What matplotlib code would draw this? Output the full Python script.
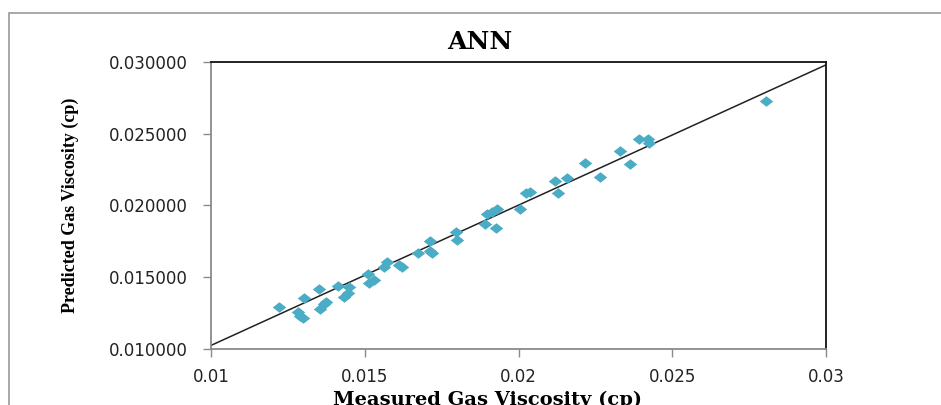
import matplotlib.pyplot as plt
from matplotlib.patches import Rectangle

# measured vs predicted gas viscosity (cp)
measured = [0.01220, 0.01283, 0.01289, 0.01299, 0.01302, 0.01351, 0.01353, 0.01367,
            0.01373, 0.01412, 0.01431, 0.01445, 0.01449, 0.01509, 0.01513, 0.01529,
            0.01562, 0.01572, 0.01611, 0.01620, 0.01673, 0.01712, 0.01712, 0.01718,
            0.01796, 0.01800, 0.01890, 0.01898, 0.01913, 0.01929, 0.01927, 0.02005,
            0.02026, 0.02036, 0.02118, 0.02130, 0.02157, 0.02216, 0.02264, 0.02329,
            0.02362, 0.02391, 0.02420, 0.02424, 0.02805]
predicted = [0.01293, 0.01258, 0.01228, 0.01216, 0.01356, 0.01421, 0.01282, 0.01317,
             0.01328, 0.01440, 0.01363, 0.01393, 0.01433, 0.01521, 0.01461, 0.01479,
             0.01568, 0.01608, 0.01584, 0.01573, 0.01666, 0.01754, 0.01684, 0.01670,
             0.01812, 0.01759, 0.01868, 0.01938, 0.01957, 0.01975, 0.01842, 0.01975,
             0.02089, 0.02096, 0.02171, 0.02089, 0.02189, 0.02294, 0.02201, 0.02380,
             0.02287, 0.02465, 0.02465, 0.02439, 0.02725]

fit_x = [0.01, 0.03]
fit_y = [0.01025, 0.02980]

xticks = [0.01, 0.015, 0.02, 0.025, 0.03]
xlabels = ['0.01', '0.015', '0.02', '0.025', '0.03']
yticks = [0.010, 0.015, 0.020, 0.025, 0.030]
ylabels = ['0.010000', '0.015000', '0.020000', '0.025000', '0.030000']

# wide, flat diamond like the excel marker
diamond = [(-1, 0), (0, 0.78), (1, 0), (0, -0.78), (-1, 0)]

fig = plt.figure(figsize=(9.41, 4.05), dpi=100)
fig.patches.append(Rectangle((9 / 941, -0.1), 1.2, 1 - 13 / 405 + 0.1,
                             transform=fig.transFigure, fill=False,
                             edgecolor='#9a9a9a', linewidth=1.2))

ax = fig.add_axes([211 / 941, 56 / 405, 615 / 941, 287 / 405])
ax.plot(fit_x, fit_y, color='#222222', linewidth=1.1, zorder=2)
ax.scatter(measured, predicted, marker=diamond, s=95, color='#4BACC6',
           linewidths=0, zorder=3)

ax.set_xlim(0.01, 0.03)
ax.set_ylim(0.01, 0.03)
ax.set_xticks(xticks)
ax.set_xticklabels(xlabels)
ax.set_yticks(yticks)
ax.set_yticklabels(ylabels)
for lab in ax.get_xticklabels() + ax.get_yticklabels():
    lab.set_family('DejaVu Sans')
    lab.set_fontsize(12)
    lab.set_color('#222222')
ax.tick_params(direction='out', length=5.5, width=1, color='#8a8a8a')
ax.tick_params(axis='y', pad=11)
ax.tick_params(axis='x', pad=8)

ax.spines['left'].set_color('#8a8a8a')
ax.spines['bottom'].set_color('#8a8a8a')
ax.spines['top'].set_color('#111111')
ax.spines['right'].set_color('#111111')
for s in ax.spines.values():
    s.set_linewidth(1.3)

ax.set_xlabel('Measured Gas Viscosity (cp)', family='DejaVu Serif',
              fontweight='bold', fontsize=14, va='top')
ax.xaxis.set_label_coords(0.45, -0.144)
ax.set_ylabel('Predicted Gas Viscosity (cp)', family='Liberation Serif',
              fontweight='bold', fontsize=13, va='center')
ax.yaxis.set_label_coords(-0.229, 0.5)
fig.text(480 / 941, 1 - 42 / 405, 'ANN', family='DejaVu Serif',
         fontweight='bold', fontsize=18, ha='center', va='center')

fig.savefig('out.png', dpi=100)
